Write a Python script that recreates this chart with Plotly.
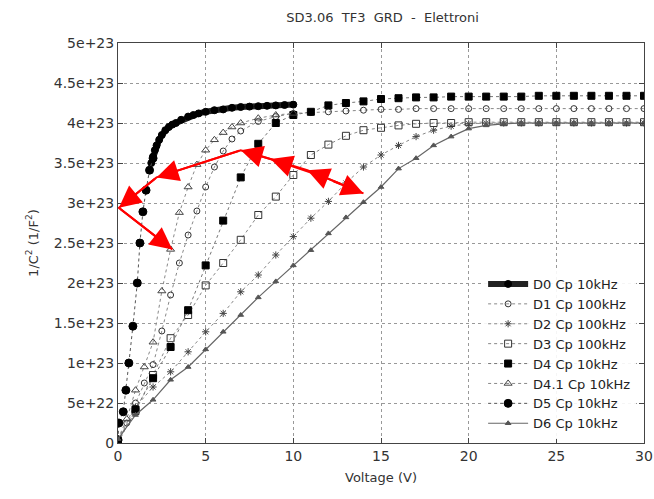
import numpy as np
import plotly.graph_objects as go

E = 1e23
# ---- data (y in units of 1e23 1/F^2) ----
d0_v = [1.9, 2.0, 2.1, 2.2, 2.35, 2.5, 2.7, 2.9, 3.1, 3.3, 3.6, 4.0, 4.3, 4.6, 5.0, 5.5, 6.0, 6.5, 7.0, 7.5, 8.0, 8.5, 9.0, 9.5, 10.0]
d0_y = [3.50, 3.58, 3.66, 3.72, 3.79, 3.85, 3.91, 3.95, 3.98, 4.00, 4.04, 4.08, 4.10, 4.12, 4.14, 4.16, 4.17, 4.19, 4.20, 4.205, 4.21, 4.215, 4.22, 4.225, 4.23]

d1_v = [0, 0.5, 1, 1.5, 2, 2.5, 3, 3.5, 4, 4.5, 5, 5.5, 6, 6.5, 7, 8, 9, 10, 11, 12, 13, 14, 15, 16, 17, 18, 19, 20, 21, 22, 23, 24, 25, 26, 27, 28, 29, 30]
d1_y = [0.05, 0.25, 0.5, 0.75, 0.98, 1.4, 1.85, 2.25, 2.6, 2.9, 3.2, 3.45, 3.65, 3.8, 3.9, 4.02, 4.08, 4.12, 4.13, 4.14, 4.15, 4.16, 4.17, 4.17, 4.18, 4.18, 4.18, 4.18, 4.18, 4.18, 4.18, 4.18, 4.18, 4.18, 4.18, 4.18, 4.18, 4.18]

d2_v = [0, 1, 2, 3, 4, 5, 6, 7, 8, 9, 10, 11, 12, 13, 14, 15, 16, 17, 18, 19, 20, 21, 22, 23, 24, 25, 26, 27, 28, 29, 30]
d2_y = [0.02, 0.45, 0.70, 0.89, 1.14, 1.39, 1.62, 1.89, 2.10, 2.35, 2.58, 2.81, 3.02, 3.25, 3.45, 3.60, 3.72, 3.83, 3.91, 3.96, 3.99, 4.0, 4.0, 4.0, 4.0, 4.0, 4.0, 4.0, 4.0, 4.0, 4.0]

d3_v = [0, 1, 2, 3, 4, 5, 6, 7, 8, 9, 10, 11, 12, 13, 14, 15, 16, 17, 18, 19, 20, 21, 22, 23, 24, 25, 26, 27, 28, 29, 30]
d3_y = [0.02, 0.40, 0.85, 1.31, 1.60, 1.97, 2.25, 2.54, 2.85, 3.08, 3.35, 3.60, 3.73, 3.84, 3.91, 3.94, 3.97, 3.99, 4.0, 4.0, 4.01, 4.01, 4.01, 4.01, 4.01, 4.01, 4.01, 4.01, 4.01, 4.01, 4.01]

d4_v = [0, 1, 2, 3, 4, 5, 6, 7, 8, 9, 10, 11, 12, 13, 14, 15, 16, 17, 18, 19, 20, 21, 22, 23, 24, 25, 26, 27, 28, 29, 30]
d4_y = [0.0, 0.42, 0.81, 1.20, 1.66, 2.22, 2.78, 3.32, 3.74, 4.0, 4.10, 4.14, 4.22, 4.25, 4.27, 4.30, 4.31, 4.32, 4.32, 4.33, 4.33, 4.33, 4.33, 4.33, 4.34, 4.34, 4.34, 4.34, 4.34, 4.34, 4.34]

d41_v = [0, 0.5, 1, 1.5, 2, 2.5, 3, 3.5, 4, 4.5, 5, 5.5, 6, 6.5, 7, 8, 9, 10]
d41_y = [0.05, 0.30, 0.66, 0.95, 1.26, 1.90, 2.42, 2.88, 3.20, 3.48, 3.66, 3.79, 3.88, 3.95, 4.0, 4.06, 4.10, 4.12]

d5_v = [0, 0.05, 0.3, 0.45, 0.62, 0.85, 1.1, 1.25, 1.42, 1.6, 1.8, 2.0]
d5_y = [0.04, 0.25, 0.39, 0.66, 1.0, 1.46, 2.0, 2.5, 2.89, 3.16, 3.41, 3.56]

d6_v = [0, 1, 2, 3, 4, 5, 6, 7, 8, 9, 10, 11, 12, 13, 14, 15, 16, 17, 18, 19, 20, 21, 22, 23, 24, 25, 26, 27, 28, 29, 30]
d6_y = [0.05, 0.35, 0.54, 0.79, 0.95, 1.17, 1.39, 1.60, 1.82, 2.02, 2.22, 2.41, 2.62, 2.82, 3.01, 3.20, 3.43, 3.56, 3.72, 3.83, 3.93, 3.97, 3.99, 4.0, 4.0, 4.0, 4.0, 4.0, 4.0, 4.0, 4.0]

x_ticks = [0, 5, 10, 15, 20, 25, 30]
y_tickvals = [0, 0.5, 1, 1.5, 2, 2.5, 3, 3.5, 4, 4.5, 5]
y_ticktext = ["0", "5e+22", "1e+23", "1.5e+23", "2e+23", "2.5e+23", "3e+23", "3.5e+23", "4e+23", "4.5e+23", "5e+23"]

# red annotation path (V, 1e23) and arrowheads (tail -> head)
path_v = [3.1, 0.05, 2.2, 7.0, 8.7, 10.8, 14.0]
path_y = [2.42, 2.94, 3.32, 3.66, 3.55, 3.41, 3.12]
arrow_tail_v = [2.2, 0.05, 7.0, 9.6, 11.8, 12.8, 12.2]
arrow_tail_y = [3.32, 2.94, 3.66, 3.49, 3.32, 3.23, 3.28]
arrow_head_v = [0.05, 3.1, 2.2, 7.0, 8.7, 10.8, 14.0]
arrow_head_y = [2.94, 2.42, 3.32, 3.66, 3.55, 3.41, 3.12]

fig = go.Figure()

def add(name, v, y, mode, symbol, msize, mcolor, lcolor, lwidth, dash, mline=1):
    fig.add_trace(go.Scatter(
        x=v, y=np.array(y) * E, name=name, mode=mode,
        line=dict(color=lcolor, width=lwidth, dash=dash),
        marker=dict(symbol=symbol, size=msize, color=mcolor,
                    line=dict(color=mcolor, width=mline)),
    ))

add("D0 Cp 10kHz", d0_v, d0_y, "lines+markers", "circle", 7, "#000000", "#222222", 6, "solid")
add("D1 Cp 100kHz", d1_v, d1_y, "lines+markers", "circle-open", 6, "#333333", "#888888", 1, "dot")
add("D2 Cp 100kHz", d2_v, d2_y, "lines+markers", "asterisk-open", 6, "#444444", "#888888", 1, "dot")
add("D3 Cp 100kHz", d3_v, d3_y, "lines+markers", "square-open", 7, "#333333", "#888888", 1, "dot")
add("D4 Cp 10kHz", d4_v, d4_y, "lines+markers", "square", 7, "#000000", "#777777", 1, "dot")
add("D4.1 Cp 10kHz", d41_v, d41_y, "lines+markers", "triangle-up-open", 7, "#444444", "#888888", 1, "dot")
add("D5 Cp 10kHz", d5_v, d5_y, "lines+markers", "circle", 8, "#000000", "#555555", 1, "dot")
add("D6 Cp 10kHz", d6_v, d6_y, "lines+markers", "triangle-up", 5, "#555555", "#666666", 1.2, "solid")

fig.add_trace(go.Scatter(x=path_v, y=np.array(path_y) * E, mode="lines",
                         line=dict(color="#ff0000", width=2), showlegend=False, hoverinfo="skip"))

for tv, ty, hv, hy in zip(arrow_tail_v, arrow_tail_y, arrow_head_v, arrow_head_y):
    fig.add_annotation(x=hv, y=hy * E, ax=tv, ay=ty * E, xref="x", yref="y",
                       axref="x", ayref="y", showarrow=True, text="",
                       arrowhead=2, arrowside="end", arrowsize=2.2, arrowwidth=2,
                       arrowcolor="#ff0000", standoff=0, startstandoff=0)

axis_common = dict(showline=True, linecolor="#444444", linewidth=1, mirror="allticks",
                   ticks="inside", ticklen=5, tickcolor="#444444",
                   showgrid=True, gridcolor="#999999", griddash="dot", gridwidth=1,
                   zeroline=False, ticklabeloverflow="allow", automargin=False,
                   tickfont=dict(family="DejaVu Sans", size=14, color="#333333"))

fig.update_xaxes(range=[0, 30], tickvals=x_ticks, ticktext=[str(t) for t in x_ticks],
                 title=dict(text="Voltage (V)", font=dict(family="DejaVu Sans", size=13, color="#333333"), standoff=10),
                 **axis_common)
fig.update_yaxes(range=[0, 5 * E], tickvals=[v * E for v in y_tickvals], ticktext=y_ticktext,
                 title=dict(text="1/C<sup>2</sup> (1/F<sup>2</sup>)", font=dict(family="DejaVu Sans", size=13, color="#333333"), standoff=12),
                 **axis_common)

fig.update_layout(
    width=654, height=499,
    margin=dict(l=118, r=10, t=43, b=56),
    paper_bgcolor="white", plot_bgcolor="white",
    title=dict(text="SD3.06  TF3  GRD  -  Elettroni", x=0.585, xanchor="center", y=0.975, yanchor="top",
               font=dict(family="DejaVu Sans", size=13, color="#333333")),
    showlegend=True,
    legend=dict(x=0.985, y=0.01, xanchor="right", yanchor="bottom",
                bgcolor="rgba(255,255,255,0.9)", borderwidth=0,
                font=dict(family="DejaVu Sans", size=13, color="#222222"),
                tracegroupgap=0, itemwidth=40),
)

fig.write_html("out.html")
